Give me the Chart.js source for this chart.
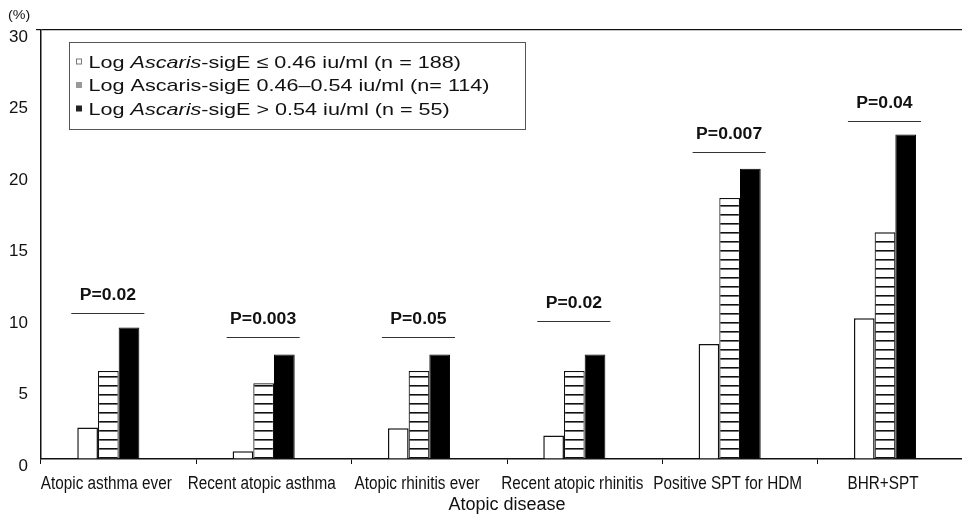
<!DOCTYPE html>
<html>
<head>
<meta charset="utf-8">
<script src="https://cdn.jsdelivr.net/npm/chart.js@4"></script>
<style>
  html, body { margin: 0; padding: 0; background: #fff; overflow: hidden; }
  #wrap { width: 990px; height: 523px; }
</style>
</head>
<body>
<div id="wrap"><canvas id="chart" width="990" height="523"></canvas></div>
<script>
"use strict";

// categories along the x axis
const categories = ["Atopic asthma ever", "Recent atopic asthma", "Atopic rhinitis ever",
  "Recent atopic rhinitis", "Positive SPT for HDM", "BHR+SPT"];

// % per group
const lowGroup = [2.2, 0.55, 2.15, 1.65, 8.05, 9.85];
const midGroup = [6.15, 5.3, 6.15, 6.15, 18.25, 15.85];
const highGroup = [9.2, 7.3, 7.3, 7.3, 20.3, 22.7];

// p values and the height of the bracket line above each group
const pValues = ["P=0.02", "P=0.003", "P=0.05", "P=0.02", "P=0.007", "P=0.04"];
const pLineLevels = [10.2, 8.5, 8.5, 9.65, 21.45, 23.65];

const yTicks = [0, 5, 10, 15, 20, 25, 30];

// legend text, [text, italic?] pieces
const legendParts = [
  [["Log ", false], ["Ascaris", true], ["-sigE \u2264 0.46 iu/ml (n = 188)", false]],
  [["Log Ascaris-sigE 0.46\u20130.54 iu/ml (n= 114)", false]],
  [["Log ", false], ["Ascaris", true], ["-sigE > 0.54 iu/ml (n = 55)", false]]
];

const FONT = "'Liberation Sans', Arial, sans-serif";

// horizontal stripes for the middle group
function stripePattern() {
  const c = document.createElement("canvas");
  c.width = 10; c.height = 9;
  const g = c.getContext("2d");
  g.fillStyle = "#fff";
  g.fillRect(0, 0, 10, 9);
  g.fillStyle = "#111";
  g.fillRect(0, 7, 10, 1.6);
  return g.createPattern(c, "repeat");
}

// text squeezed or stretched sideways (the source font is not plain Arial width)
function scaledText(ctx, txt, x, y, sx) {
  ctx.save();
  ctx.translate(x, y);
  ctx.scale(sx, 1);
  ctx.fillText(txt, 0, 0);
  const w = ctx.measureText(txt).width * sx;
  ctx.restore();
  return w;
}

// category labels, p value brackets, legend box, "(%)"
const extrasPlugin = {
  id: "extras",
  afterDatasetsDraw(chart) {
    const ctx = chart.ctx;
    const y = chart.scales.y;
    const x = chart.scales.x;
    const first = chart.getDatasetMeta(0).data;
    const last = chart.getDatasetMeta(2).data;
    ctx.save();

    // x labels, narrow like the original, centred under the bar group
    ctx.fillStyle = "#111";
    ctx.font = "18px " + FONT;
    ctx.textAlign = "center";
    ctx.textBaseline = "alphabetic";
    categories.forEach((c, i) => {
      const mid = (first[i].x - first[i].width / 2 + last[i].x + last[i].width / 2) / 2;
      scaledText(ctx, c, mid - 2, x.top + 30, 0.85);
    });

    // brackets
    pValues.forEach((txt, i) => {
      const left = first[i].x - first[i].width / 2 - 6;
      const right = last[i].x + last[i].width / 2 + 5;
      const ly = Math.round(y.getPixelForValue(pLineLevels[i])) + 0.5;
      ctx.strokeStyle = "#333";
      ctx.lineWidth = 1.2;
      ctx.beginPath();
      ctx.moveTo(left, ly);
      ctx.lineTo(right, ly);
      ctx.stroke();
      ctx.fillStyle = "#111";
      ctx.font = "bold 16px " + FONT;
      ctx.textAlign = "center";
      ctx.textBaseline = "middle";
      scaledText(ctx, txt, (left + right) / 2, ly - 18, 1.1);
    });

    // legend box
    const area = chart.chartArea;
    const bx = area.left + 28.5, by = area.top + 12.5;
    ctx.strokeStyle = "#555";
    ctx.lineWidth = 1;
    ctx.fillStyle = "#fff";
    ctx.fillRect(bx, by, 456, 87);
    ctx.strokeRect(bx, by, 456, 87);
    const markerFill = ["#fff", "#999", "#222"];
    const markerLine = ["#777", "#999", "#222"];
    ctx.textAlign = "left";
    ctx.textBaseline = "middle";
    legendParts.forEach((parts, i) => {
      const cy = by + 19.5 + i * 23.5;
      ctx.fillStyle = markerFill[i];
      ctx.fillRect(bx + 7, cy - 3, 5, 5);
      ctx.strokeStyle = markerLine[i];
      ctx.strokeRect(bx + 7, cy - 3, 5, 5);
      let tx = bx + 19;
      ctx.fillStyle = "#111";
      parts.forEach(([t, it]) => {
        ctx.font = (it ? "italic " : "") + "17px " + FONT;
        tx += scaledText(ctx, t, tx, cy + 1, 1.27);
      });
    });

    // y axis unit
    ctx.fillStyle = "#111";
    ctx.font = "13px " + FONT;
    ctx.textAlign = "left";
    scaledText(ctx, "(%)", area.left - 33, 15, 1.1);
    ctx.restore();
  }
};

const ctx = document.getElementById("chart").getContext("2d");
new Chart(ctx, {
  type: "bar",
  data: {
    labels: categories,
    datasets: [
      { label: "low", data: lowGroup, backgroundColor: "#fff", borderColor: "#111", borderWidth: 1.5 },
      { label: "mid", data: midGroup, backgroundColor: stripePattern(), borderColor: "#111", borderWidth: 1.2 },
      { label: "high", data: highGroup, backgroundColor: "#000", borderColor: "#000", borderWidth: 1 },
      // empty slot: the original groups sit left of the category centre
      { label: "", data: categories.map(() => null), backgroundColor: "rgba(0,0,0,0)" }
    ]
  },
  options: {
    responsive: false,
    animation: false,
    layout: { padding: { top: 30, left: 0, right: 17, bottom: 0 } },
    datasets: { bar: { barPercentage: 1, categoryPercentage: 0.533 } },
    plugins: { legend: { display: false }, tooltip: { enabled: false } },
    scales: {
      x: {
        grid: { offset: true, drawOnChartArea: false, color: "#111", tickLength: 5, lineWidth: 1 },
        border: { color: "#111", width: 1.5 },
        ticks: { display: false },
        title: { display: true, text: "Atopic disease", color: "#111", font: { family: FONT, size: 18 }, padding: { top: 0, bottom: 7 } },
        afterFit(scale) { scale.height = 64; }
      },
      y: {
        min: 0, max: 30,
        afterBuildTicks(scale) { scale.ticks = yTicks.map(v => ({ value: v })); },
        grid: {
          drawOnChartArea: true, tickLength: 5,
          color: c => (c.tick && c.tick.value === 30 ? "#111" : "rgba(0,0,0,0)"),
          lineWidth: 1.2
        },
        border: { color: "#111", width: 1.5 },
        ticks: { color: "#111", font: { family: FONT, size: 17 }, padding: 8, labelOffset: 7 },
        afterFit(scale) { scale.width = 41; }
      }
    }
  },
  plugins: [extrasPlugin]
});
</script>
</body>
</html>
